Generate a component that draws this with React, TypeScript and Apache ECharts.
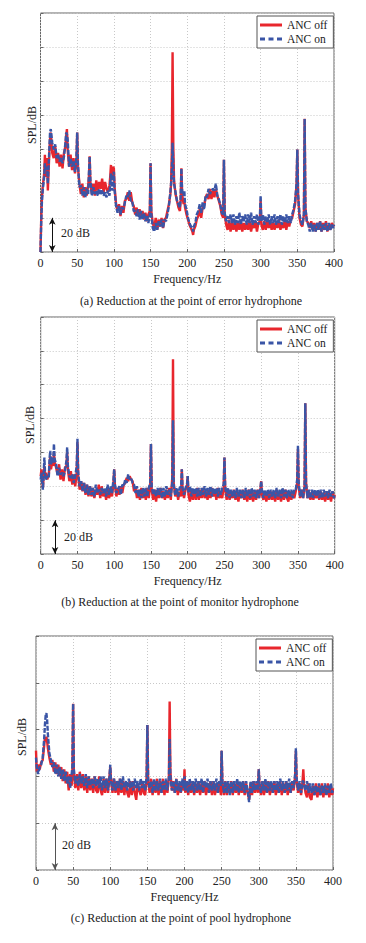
import React, { useEffect, useRef } from "react";
import * as echarts from "echarts";

// ---------- Tick labels ----------
const xTicks = [0, 50, 100, 150, 200, 250, 300, 350, 400];
const legendNames = ["ANC off", "ANC on"];
const captions = [
  "(a) Reduction at the point of error hydrophone",
  "(b) Reduction at the point of monitor hydrophone",
  "(c) Reduction at the point of pool hydrophone",
];

// ---------- (a) error hydrophone ----------
const freqA = [
  0, 1, 2, 3, 5, 6, 7, 9, 10, 12,
  13, 14, 16, 18, 20, 22, 24, 26, 28, 30,
  32, 34, 35, 36, 37, 39, 41, 43, 45, 47,
  49, 50, 51, 53, 55, 57, 59, 61, 63, 65,
  66, 67, 68, 70, 72, 74, 76, 78, 80, 82,
  84, 86, 88, 90, 92, 94, 95, 96, 97, 98,
  99, 100, 101, 103, 105, 107, 109, 111, 113, 115,
  117, 119, 121, 123, 125, 127, 129, 131, 133, 135,
  137, 139, 141, 143, 145, 147, 149, 150, 151, 153,
  155, 157, 159, 161, 163, 165, 167, 169, 171, 173,
  175, 177, 178, 179, 180, 181, 182, 184, 186, 188,
  190, 191, 192, 193, 195, 196, 197, 199, 201, 203,
  205, 207, 208, 209, 211, 213, 215, 217, 219, 221,
  223, 225, 227, 229, 231, 233, 235, 237, 239, 241,
  243, 245, 247, 249, 250, 251, 253, 255, 257, 259,
  261, 263, 265, 267, 269, 271, 273, 275, 277, 279,
  281, 283, 285, 287, 289, 291, 293, 295, 297, 299,
  300, 301, 303, 305, 307, 309, 311, 313, 315, 317,
  319, 321, 323, 325, 327, 329, 331, 333, 335, 337,
  339, 341, 343, 345, 347, 349, 350, 351, 353, 355,
  357, 359, 360, 361, 363, 365, 367, 369, 371, 373,
  375, 377, 379, 381, 383, 385, 387, 389, 391, 393,
  395, 397, 399, 400,
];
const offA = [
  0, 20, 32, 38, 46, 57, 44, 55, 36, 58,
  66, 70, 58, 55, 62, 52, 58, 50, 57, 49,
  58, 62, 68, 72, 60, 50, 57, 48, 55, 46,
  53, 70, 50, 40, 34, 40, 32, 38, 33, 39,
  44, 56, 40, 34, 40, 33, 42, 36, 41, 37,
  43, 35, 41, 37, 35, 39, 44, 51, 42, 44,
  50, 49, 38, 28, 24, 28, 21, 27, 23, 30,
  31, 35, 30, 35, 29, 27, 22, 26, 21, 25,
  20, 24, 19, 23, 18, 22, 24, 52, 24, 17,
  14, 20, 13, 19, 15, 20, 14, 19, 20, 24,
  28, 34, 40, 60, 117, 62, 42, 34, 30, 26,
  24, 30, 49, 34, 28, 30, 26, 22, 19, 16,
  14, 12, 10, 13, 15, 19, 21, 25, 20, 26,
  27, 32, 34, 31, 37, 31, 36, 32, 37, 33,
  30, 27, 22, 20, 54, 22, 16, 13, 19, 12,
  17, 13, 18, 12, 17, 13, 18, 12, 17, 13,
  17, 13, 18, 12, 17, 14, 18, 12, 17, 18,
  30, 16, 13, 18, 13, 19, 14, 18, 13, 17,
  13, 18, 14, 19, 13, 17, 14, 19, 13, 18,
  15, 19, 20, 24, 28, 40, 60, 34, 20, 16,
  15, 22, 78, 26, 18, 17, 14, 18, 13, 17,
  12, 17, 13, 18, 12, 17, 13, 18, 12, 16,
  13, 17, 15, 16,
];
const onA = [
  0, 18, 30, 36, 44, 52, 48, 50, 40, 60,
  70, 72, 64, 60, 63, 55, 57, 53, 55, 52,
  56, 64, 70, 69, 66, 50, 55, 50, 53, 47,
  56, 70, 52, 38, 39, 33, 38, 32, 37, 34,
  46, 56, 42, 33, 38, 34, 36, 33, 37, 34,
  36, 33, 35, 32, 36, 33, 40, 46, 38, 36,
  44, 47, 36, 27, 23, 27, 22, 26, 25, 29,
  33, 32, 36, 30, 30, 24, 24, 21, 25, 19,
  24, 19, 23, 18, 21, 17, 22, 52, 22, 14,
  12, 17, 13, 18, 15, 19, 14, 19, 18, 22,
  27, 35, 40, 48, 64, 50, 40, 35, 30, 28,
  26, 32, 49, 36, 33, 36, 28, 25, 20, 17,
  15, 14, 12, 15, 17, 22, 24, 28, 23, 29,
  25, 33, 32, 37, 34, 36, 37, 36, 40, 33,
  31, 28, 23, 22, 54, 23, 18, 21, 17, 22,
  17, 22, 16, 21, 17, 23, 16, 21, 18, 22,
  16, 22, 17, 23, 16, 21, 17, 22, 16, 21,
  33, 18, 22, 16, 21, 17, 22, 16, 21, 17,
  22, 16, 21, 17, 22, 16, 21, 17, 22, 17,
  21, 17, 22, 25, 30, 40, 60, 34, 22, 18,
  16, 22, 78, 26, 18, 16, 12, 17, 12, 16,
  12, 17, 13, 18, 12, 16, 13, 17, 12, 17,
  13, 16, 14, 16,
];

// ---------- (b) monitor hydrophone ----------
const freqB = [
  0, 1, 3, 5, 6, 7, 9, 11, 12, 13,
  14, 16, 17, 18, 19, 21, 23, 25, 27, 29,
  31, 33, 35, 36, 37, 39, 41, 43, 45, 47,
  49, 50, 51, 53, 55, 57, 59, 61, 63, 65,
  67, 69, 71, 73, 75, 77, 79, 81, 83, 85,
  87, 89, 91, 93, 95, 97, 99, 100, 101, 103,
  105, 107, 109, 111, 113, 115, 117, 119, 121, 123,
  125, 127, 129, 131, 133, 135, 137, 139, 141, 143,
  145, 147, 149, 150, 151, 153, 155, 157, 159, 161,
  163, 165, 167, 169, 171, 173, 175, 177, 179, 180,
  181, 183, 185, 187, 189, 191, 192, 193, 195, 197,
  199, 200, 201, 203, 205, 207, 209, 211, 213, 215,
  217, 219, 221, 223, 225, 227, 229, 231, 233, 235,
  237, 239, 241, 243, 245, 247, 249, 250, 251, 253,
  255, 257, 259, 261, 263, 265, 267, 269, 271, 273,
  275, 277, 279, 281, 283, 285, 287, 289, 291, 293,
  295, 297, 299, 300, 301, 303, 305, 307, 309, 311,
  313, 315, 317, 319, 321, 323, 325, 327, 329, 331,
  333, 335, 337, 339, 341, 343, 345, 347, 349, 350,
  351, 353, 355, 357, 359, 360, 361, 363, 365, 367,
  369, 371, 373, 375, 377, 379, 381, 383, 385, 387,
  389, 391, 393, 395, 397, 399, 400,
];
const offB = [
  46, 50, 39, 52, 45, 48, 44, 47, 52, 58,
  50, 55, 52, 60, 54, 51, 47, 53, 44, 50,
  43, 51, 52, 60, 50, 43, 49, 41, 47, 40,
  48, 66, 46, 38, 43, 37, 42, 35, 41, 34,
  40, 34, 39, 33, 38, 35, 41, 33, 40, 34,
  38, 32, 39, 33, 37, 34, 42, 50, 40, 34,
  39, 35, 40, 36, 41, 42, 45, 43, 46, 44,
  43, 37, 39, 33, 38, 32, 39, 33, 38, 32,
  39, 33, 40, 65, 38, 32, 38, 31, 38, 33,
  39, 33, 37, 32, 38, 33, 39, 32, 45, 115,
  42, 34, 38, 32, 37, 34, 50, 38, 33, 38,
  40, 46, 35, 31, 38, 32, 38, 32, 39, 32,
  38, 33, 39, 33, 37, 32, 38, 33, 39, 34,
  38, 32, 39, 33, 37, 33, 40, 57, 38, 32,
  38, 32, 37, 33, 38, 32, 37, 31, 37, 33,
  38, 32, 37, 31, 38, 32, 37, 31, 37, 32,
  38, 33, 38, 43, 35, 32, 37, 31, 36, 32,
  37, 32, 36, 31, 38, 32, 37, 31, 37, 32,
  38, 33, 31, 37, 32, 37, 33, 37, 42, 62,
  40, 33, 38, 33, 40, 89, 42, 33, 37, 32,
  36, 32, 37, 33, 36, 32, 37, 32, 36, 31,
  37, 32, 36, 31, 37, 33, 35,
];
const onB = [
  44, 48, 38, 57, 47, 44, 46, 45, 56, 61,
  53, 57, 54, 65, 56, 53, 46, 51, 47, 48,
  46, 49, 55, 63, 52, 46, 45, 47, 42, 46,
  52, 68, 48, 40, 43, 37, 42, 36, 41, 35,
  40, 35, 39, 34, 41, 36, 38, 35, 39, 36,
  39, 34, 41, 35, 40, 36, 44, 50, 41, 36,
  38, 40, 35, 41, 40, 44, 42, 47, 44, 45,
  42, 41, 36, 40, 34, 38, 33, 39, 34, 39,
  34, 39, 42, 65, 40, 35, 38, 34, 39, 35,
  39, 33, 39, 34, 40, 35, 38, 34, 42, 79,
  40, 35, 39, 34, 39, 40, 50, 39, 35, 39,
  41, 46, 36, 40, 34, 39, 35, 39, 34, 39,
  34, 39, 35, 40, 34, 39, 35, 40, 34, 39,
  35, 39, 34, 39, 35, 39, 41, 57, 40, 34,
  39, 33, 38, 34, 38, 33, 39, 34, 38, 33,
  38, 33, 39, 34, 38, 33, 39, 34, 38, 33,
  38, 33, 39, 43, 38, 33, 38, 34, 38, 33,
  38, 34, 38, 33, 39, 34, 38, 33, 39, 34,
  38, 33, 38, 34, 38, 33, 38, 38, 44, 64,
  42, 34, 38, 33, 40, 89, 42, 33, 38, 33,
  38, 33, 38, 34, 38, 33, 38, 33, 38, 34,
  37, 33, 38, 34, 37, 33, 35,
];

// ---------- (c) pool hydrophone ----------
const freqC = [
  0, 1, 3, 5, 7, 9, 10, 11, 12, 13,
  14, 15, 16, 17, 18, 20, 22, 24, 26, 28,
  30, 32, 34, 36, 38, 40, 42, 44, 46, 48,
  49, 50, 51, 53, 55, 57, 59, 61, 63, 65,
  67, 69, 71, 73, 75, 77, 79, 81, 83, 85,
  87, 89, 91, 93, 95, 97, 99, 100, 101, 103,
  105, 107, 109, 111, 113, 115, 117, 119, 121, 123,
  125, 127, 129, 131, 133, 135, 137, 139, 141, 143,
  145, 147, 149, 150, 151, 153, 155, 157, 159, 161,
  163, 165, 167, 169, 171, 173, 175, 177, 179, 180,
  181, 183, 185, 187, 189, 191, 193, 195, 197, 199,
  200, 201, 203, 205, 207, 209, 211, 213, 215, 217,
  219, 221, 223, 225, 227, 229, 231, 233, 235, 237,
  239, 241, 243, 245, 247, 249, 250, 251, 253, 255,
  257, 259, 261, 263, 265, 267, 269, 271, 273, 275,
  277, 279, 281, 283, 285, 287, 289, 291, 293, 295,
  297, 299, 300, 301, 303, 305, 307, 309, 311, 313,
  315, 317, 319, 321, 323, 325, 327, 329, 331, 333,
  335, 337, 339, 341, 343, 345, 347, 349, 350, 351,
  353, 355, 357, 359, 360, 361, 363, 365, 367, 369,
  371, 373, 375, 377, 379, 381, 383, 385, 387, 389,
  391, 393, 395, 397, 399, 400,
];
const offC = [
  51, 42, 45, 43, 46, 47, 50, 53, 56, 55,
  57, 55, 52, 50, 48, 45, 47, 42, 46, 41,
  45, 40, 44, 38, 43, 37, 42, 34, 41, 36,
  42, 71, 41, 35, 41, 34, 42, 35, 41, 34,
  40, 33, 40, 34, 39, 33, 40, 34, 33, 40,
  34, 32, 39, 33, 39, 33, 40, 44, 39, 33,
  39, 33, 38, 32, 39, 33, 38, 32, 38, 33,
  31, 38, 32, 38, 33, 30, 37, 34, 32, 38,
  33, 32, 39, 62, 38, 33, 39, 32, 38, 33,
  39, 32, 38, 33, 39, 32, 38, 33, 40, 72,
  42, 34, 38, 33, 39, 32, 37, 33, 38, 34,
  43, 33, 38, 32, 37, 33, 38, 32, 37, 33,
  38, 32, 37, 33, 38, 32, 37, 33, 38, 32,
  38, 32, 37, 33, 38, 32, 51, 37, 32, 38,
  32, 37, 33, 38, 32, 37, 33, 38, 32, 37,
  33, 38, 32, 37, 33, 30, 37, 32, 38, 33,
  37, 33, 43, 36, 32, 38, 32, 37, 33, 38,
  32, 37, 33, 38, 32, 37, 33, 38, 32, 37,
  33, 38, 32, 37, 33, 38, 34, 40, 51, 38,
  33, 37, 32, 38, 43, 37, 33, 31, 37, 31,
  30, 36, 32, 37, 31, 36, 32, 37, 31, 36,
  32, 37, 31, 36, 32, 35,
];
const onC = [
  48, 44, 41, 44, 45, 48, 52, 56, 62, 66,
  67, 64, 58, 54, 50, 47, 44, 46, 41, 45,
  40, 44, 39, 43, 38, 42, 37, 40, 35, 41,
  44, 71, 43, 37, 40, 36, 41, 37, 40, 36,
  41, 35, 40, 36, 39, 35, 40, 36, 39, 35,
  40, 34, 40, 35, 39, 34, 40, 45, 38, 34,
  39, 34, 38, 35, 39, 34, 40, 35, 38, 34,
  39, 35, 38, 34, 39, 35, 38, 34, 39, 35,
  38, 34, 40, 62, 39, 35, 38, 33, 39, 34,
  38, 34, 39, 33, 38, 34, 39, 34, 39, 56,
  40, 34, 38, 33, 39, 34, 38, 33, 39, 35,
  40, 34, 38, 33, 39, 34, 38, 33, 39, 34,
  38, 34, 39, 33, 38, 35, 39, 33, 38, 34,
  38, 34, 39, 33, 38, 36, 51, 38, 33, 38,
  33, 38, 32, 38, 33, 38, 34, 39, 33, 38,
  34, 38, 33, 38, 34, 29, 38, 33, 38, 34,
  38, 34, 43, 37, 33, 38, 34, 39, 33, 38,
  34, 38, 33, 38, 34, 38, 33, 39, 34, 38,
  33, 38, 34, 39, 33, 38, 35, 41, 52, 39,
  34, 38, 33, 38, 38, 36, 34, 38, 33, 37,
  33, 37, 32, 36, 33, 37, 32, 36, 33, 37,
  32, 36, 33, 37, 33, 34,
];

// y-axis maxima per panel (dB, 20 dB per grid division)
const yMax = [140, 140, 100];
// frequency at which the 20 dB scale arrow sits, per panel
const arrowFreq = [16, 19.5, 25.5];
const scaleLabel = "20 dB";

const RED = "#e8262d";
const BLUE = "#3a55a6";
const FONT = "'Liberation Serif', 'Times New Roman', serif";

const grids = [
  { left: 40.5, top: 13, width: 293.5, height: 239 },
  { left: 40.7, top: 317, width: 294, height: 237 },
  { left: 36, top: 636, width: 297, height: 234 },
];
const legendPos = [
  { left: 257, top: 16 },
  { left: 257, top: 320 },
  { left: 256, top: 639 },
];
const captionY = [301, 602, 918];
const captionX = [191, 180, 181];
const yNamePos = [
  [32, 125],
  [30, 425],
  [22, 737],
];
const scaleTextPos = [
  [61, 233],
  [64, 537],
  [62, 845],
];

const SOLID_ICON = "path://M0,0H22V3H0Z";
const DASH_ICON = "path://M0,0H5V3H0Z M8.5,0H13.5V3H8.5Z M17,0H22V3H17Z";

export default function App() {
  const ref = useRef<HTMLDivElement>(null);

  useEffect(() => {
    if (!ref.current) return;
    const chart = echarts.init(ref.current, undefined, { renderer: "svg" });

    const panels = [
      { f: freqA, off: offA, on: onA },
      { f: freqB, off: offB, on: onB },
      { f: freqC, off: offC, on: onC },
    ];

    const series: any[] = [];
    panels.forEach((p, i) => {
      series.push({
        type: "line",
        name: legendNames[0],
        xAxisIndex: i,
        yAxisIndex: i,
        data: p.f.map((x, k) => [x, p.off[k]]),
        symbol: "none",
        showSymbol: false,
        silent: true,
        z: 2,
        lineStyle: { color: RED, width: 2.4 },
        itemStyle: { color: RED },
        markLine: {
          silent: true,
          symbol: ["arrow", "arrow"],
          symbolSize: [5, 7],
          label: { show: false },
          lineStyle: { color: i === 2 ? "#555" : "#111", width: 1, type: "solid" },
          data: [[{ coord: [arrowFreq[i], 0] }, { coord: [arrowFreq[i], 20] }]],
        },
      });
      series.push({
        type: "line",
        name: legendNames[1],
        xAxisIndex: i,
        yAxisIndex: i,
        data: p.f.map((x, k) => [x, p.on[k]]),
        symbol: "none",
        showSymbol: false,
        silent: true,
        z: 3,
        lineStyle: { color: BLUE, width: 2.4, type: [5, 1.5] },
        itemStyle: { color: BLUE },
      });
    });

    const graphic: any[] = [];
    for (let i = 0; i < 3; i++) {
      graphic.push({
        type: "text",
        x: captionX[i],
        y: captionY[i],
        style: {
          text: captions[i],
          font: `12px ${FONT}`,
          fill: "#222",
          textAlign: "center",
          textVerticalAlign: "middle",
        },
      });
      graphic.push({
        type: "text",
        x: yNamePos[i][0],
        y: yNamePos[i][1],
        rotation: Math.PI / 2,
        style: {
          text: "SPL/dB",
          font: `12px ${FONT}`,
          fill: "#222",
          textAlign: "center",
          textVerticalAlign: "middle",
        },
      });
      graphic.push({
        type: "text",
        x: scaleTextPos[i][0],
        y: scaleTextPos[i][1],
        style: {
          text: scaleLabel,
          font: `12px ${FONT}`,
          fill: "#222",
          textAlign: "left",
          textVerticalAlign: "middle",
        },
      });
    }

    chart.setOption({
      animation: false,
      backgroundColor: "#fff",
      grid: grids.map((g) => ({
        ...g,
        show: true,
        borderColor: "#666",
        borderWidth: 1,
        backgroundColor: "transparent",
        containLabel: false,
      })),
      xAxis: grids.map((_, i) => ({
        type: "value",
        gridIndex: i,
        min: xTicks[0],
        max: xTicks[xTicks.length - 1],
        interval: 50,
        name: "Frequency/Hz",
        nameLocation: "middle",
        nameGap: 21,
        nameTextStyle: { fontFamily: FONT, fontSize: 12, color: "#222" },
        axisLine: { show: false },
        axisTick: { show: true, inside: true, length: 3, lineStyle: { color: "#666" } },
        axisLabel: { fontFamily: FONT, fontSize: 12, color: "#222", margin: 5 },
        splitLine: { show: true, lineStyle: { color: "#c8c8c8", type: [1, 2], width: 1 } },
      })),
      yAxis: grids.map((_, i) => ({
        type: "value",
        gridIndex: i,
        min: 0,
        max: yMax[i],
        interval: 20,
        axisLine: { show: false },
        axisTick: { show: true, inside: true, length: 3, lineStyle: { color: "#666" } },
        axisLabel: { show: false },
        splitLine: { show: true, lineStyle: { color: "#c8c8c8", type: [1, 2], width: 1 } },
      })),
      legend: legendPos.map((pos) => ({
        ...pos,
        orient: "vertical",
        backgroundColor: "#fff",
        borderColor: "#555",
        borderWidth: 1,
        borderRadius: 0,
        padding: [3, 6, 3, 3],
        itemGap: 2,
        itemWidth: 22,
        itemHeight: 3,
        selectedMode: false,
        textStyle: { fontFamily: FONT, fontSize: 11.5, color: "#222", padding: [0, 0, 0, 0] },
        data: [
          { name: legendNames[0], icon: SOLID_ICON },
          { name: legendNames[1], icon: DASH_ICON },
        ],
      })),
      series,
      graphic,
    });

    return () => chart.dispose();
  }, []);

  return (
    <div
      ref={ref}
      style={{ position: "absolute", left: 0, top: 0, width: 366, height: 943, background: "#fff" }}
    />
  );
}
